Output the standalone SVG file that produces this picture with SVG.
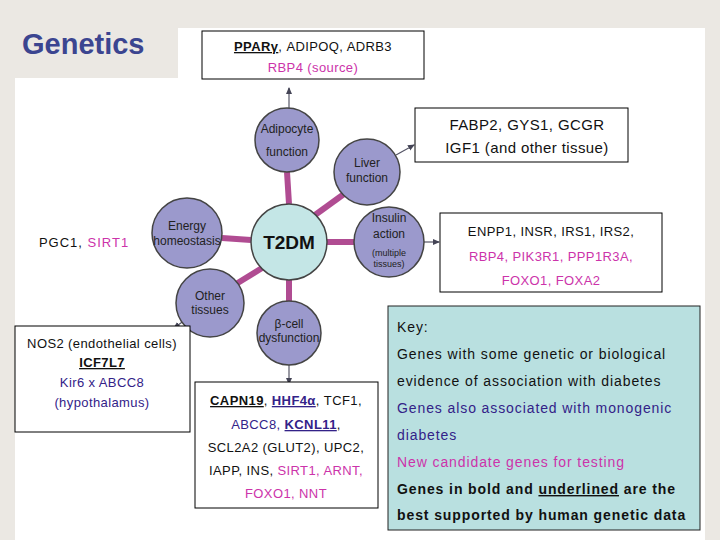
<svg xmlns="http://www.w3.org/2000/svg" width="720" height="540" viewBox="0 0 720 540">
<defs>
<style>
text{font-family:"Liberation Sans",Arial,sans-serif;fill:#111}
.node{fill:#9b99cc;stroke:#444;stroke-width:1.5}
.nl{font-size:12px;fill:#222;text-anchor:middle}
.box{fill:#fff;stroke:#000;stroke-width:1}
.t{font-size:14px;text-anchor:middle;letter-spacing:0.4px}
.pk{fill:#cc33aa}
.bl{fill:#332288}
.b{font-weight:bold}
.u{text-decoration:underline}
.k{font-size:14px;letter-spacing:0.9px}
.link{stroke:#b04c92;stroke-width:6}
.arr{stroke:#556;stroke-width:1.2;fill:none;marker-end:url(#ah)}
</style>
<marker id="ah" markerWidth="8" markerHeight="8" refX="6" refY="4" orient="auto" markerUnits="userSpaceOnUse"><path d="M0,1 L7,4 L0,7 z" fill="#445"/></marker>
</defs>
<rect width="720" height="540" fill="#ebe8e3"/>
<rect x="15" y="78" width="690" height="462" fill="#fff"/>
<rect x="178" y="28" width="527" height="60" fill="#fff"/>
<text x="22" y="54" style="font-size:29px;font-weight:bold;fill:#3b4590">Genetics</text>

<g id="connectors">
<line class="link" x1="289" y1="204" x2="287" y2="172"/>
<line class="link" x1="315" y1="215" x2="344" y2="194"/>
<line class="link" x1="327" y1="242" x2="354" y2="242"/>
<line class="link" x1="251" y1="240" x2="222" y2="238"/>
<line class="link" x1="262" y1="268" x2="236" y2="284"/>
<line class="link" x1="289" y1="280" x2="289" y2="301"/>
<path class="arr" d="M289,108 L289,88"/>
<path class="arr" d="M396,155 L414,145"/>
<path class="arr" d="M424,242 L439,242"/>
<path class="arr" d="M185,320 L174,328"/>
<path class="arr" d="M289,365 L289,384"/>
</g>

<g id="n-adipocyte"><circle class="node" cx="287" cy="140" r="32"/><text class="nl" x="287" y="133">Adipocyte</text><text class="nl" x="287" y="156">function</text></g>
<g id="n-liver"><circle class="node" cx="367" cy="172" r="33"/><text class="nl" x="367" y="167">Liver</text><text class="nl" x="367" y="182">function</text></g>
<g id="n-insulin"><circle class="node" cx="389" cy="242" r="35"/><text class="nl" x="389" y="222">Insulin</text><text class="nl" x="389" y="238">action</text><text class="nl" x="389" y="256" style="font-size:9px">(multiple</text><text class="nl" x="389" y="267" style="font-size:9px">tissues)</text></g>
<g id="n-energy"><circle class="node" cx="187" cy="233" r="35"/><text class="nl" x="187" y="230">Energy</text><text class="nl" x="187" y="245">homeostasis</text></g>
<g id="n-other"><circle class="node" cx="210" cy="303" r="34"/><text class="nl" x="210" y="300">Other</text><text class="nl" x="210" y="314">tissues</text></g>
<g id="n-beta"><circle class="node" cx="289" cy="333" r="32"/><text class="nl" x="289" y="328">β-cell</text><text class="nl" x="289" y="342">dysfunction</text></g>
<g id="n-t2dm"><circle cx="289" cy="242" r="38" fill="#c4e6e6" stroke="#444" stroke-width="1.5"/><text x="289" y="249" style="font-size:19px;font-weight:bold;text-anchor:middle">T2DM</text></g>

<g id="b-adipo"><rect class="box" x="202" y="31" width="222" height="48"/>
<text class="t" x="313" y="51" style="font-size:13px"><tspan class="b u">PPARγ</tspan>, ADIPOQ, ADRB3</text>
<text class="t pk" x="313" y="72" style="font-size:13px">RBP4 (source)</text></g>

<g id="b-liver"><rect class="box" x="415" y="108" width="213" height="54"/>
<text class="t" x="527" y="130" style="font-size:15px">FABP2, GYS1, GCGR</text>
<text class="t" x="527" y="153" style="font-size:15px">IGF1 (and other tissue)</text></g>

<g id="b-insulin"><rect class="box" x="440" y="213" width="222" height="79"/>
<text class="t" x="551" y="236" style="font-size:13px">ENPP1, INSR, IRS1, IRS2,</text>
<text class="t pk" x="551" y="261" style="font-size:13px">RBP4, PIK3R1, PPP1R3A,</text>
<text class="t pk" x="551" y="285" style="font-size:13px">FOXO1, FOXA2</text></g>

<g id="b-energy"><text class="t" x="84" y="247" style="font-size:13px;letter-spacing:1px">PGC1, <tspan class="pk">SIRT1</tspan></text></g>

<g id="b-other"><rect class="box" x="15" y="326" width="175" height="106"/>
<text class="t" x="102" y="348" style="font-size:13px">NOS2 (endothelial cells)</text>
<text class="t b u" x="102" y="367" style="font-size:13px">ICF7L7</text>
<text class="t bl" x="102" y="387" style="font-size:13px">Kir6 x ABCC8</text>
<text class="t bl" x="102" y="407" style="font-size:13px">(hypothalamus)</text></g>

<g id="b-beta"><rect class="box" x="195" y="382" width="183" height="126"/>
<text class="t" x="286" y="405" style="font-size:13px"><tspan class="b u">CAPN19</tspan>, <tspan class="b u bl">HHF4α</tspan>, TCF1,</text>
<text class="t" x="286" y="429" style="font-size:13px"><tspan class="bl">ABCC8, </tspan><tspan class="b u bl">KCNL11</tspan>,</text>
<text class="t" x="286" y="452" style="font-size:13px">SCL2A2 (GLUT2), UPC2,</text>
<text class="t" x="286" y="475" style="font-size:13px">IAPP, INS, <tspan class="pk">SIRT1, ARNT,</tspan></text>
<text class="t pk" x="286" y="498" style="font-size:13px">FOXO1, NNT</text></g>

<g id="key"><rect x="388" y="306" width="312" height="224" fill="#b9e0e0" stroke="#222" stroke-width="1"/>
<text x="397" y="332" class="k">Key:</text>
<text x="397" y="359" class="k">Genes with some genetic or biological</text>
<text x="397" y="386" class="k">evidence of association with diabetes</text>
<text x="397" y="413" class="k bl">Genes also associated with monogenic</text>
<text x="397" y="440" class="k bl">diabetes</text>
<text x="397" y="467" class="k pk">New candidate genes for testing</text>
<text x="397" y="494" class="k" style="font-weight:bold">Genes in bold and <tspan class="u">underlined</tspan> are the</text>
<text x="397" y="520" class="k" style="font-weight:bold">best supported by human genetic data</text></g>
</svg>
